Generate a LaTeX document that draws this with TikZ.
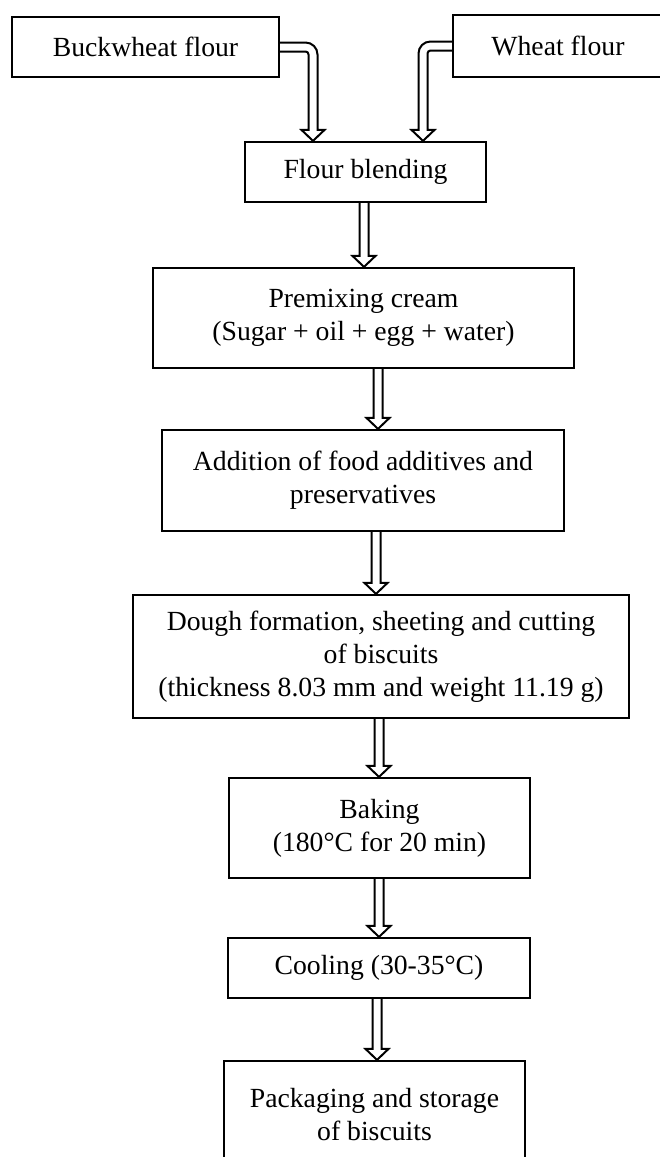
\documentclass[tikz,border=0pt]{standalone}
\usepackage{fontspec}
\setmainfont{Liberation Serif}
\usetikzlibrary{calc}
\tikzset{
  box/.style={draw, line width=2.2pt, align=center, inner sep=0pt,
    font=\fontsize{27.7}{33}\selectfont},
  harrow/.style={draw, line width=2pt, line join=miter},
}
\newcommand\hdown[3]{%
  \draw[harrow] let \p1=(#1,0 |- #2.south), \p2=(#1,0 |- #3.north) in
    (\x1-4.5pt,\y1) -- (\x1-4.5pt,\y2+11pt) -- (\x1-11.5pt,\y2+11pt) -- (\p2)
    -- (\x1+11.5pt,\y2+11pt) -- (\x1+4.5pt,\y2+11pt) -- (\x1+4.5pt,\y1);}
\begin{document}
\begin{tikzpicture}[x=1pt,y=1pt]
\useasboundingbox (0,0) rectangle (660,-1157);
\node[box, minimum width=267pt, minimum height=60pt] (buck) at (145.5,-47) {Buckwheat flour};
\node[box, minimum width=210pt, minimum height=62pt] (wheat) at (558,-46) {Wheat flour};
\node[box, minimum width=241pt, minimum height=60pt] (blend) at (365.5,-172) {Flour blending};
\node[box, minimum width=421pt, minimum height=100pt] (premix) at (363.5,-318) {Premixing cream\\(Sugar + oil + egg + water)};
\node[box, minimum width=402pt, minimum height=101pt] (addit) at (363,-480.5) {Addition of food additives and\\preservatives};
\node[box, minimum width=496pt, minimum height=123pt] (dough) at (381,-656.5) {Dough formation, sheeting and cutting\\of biscuits\\(thickness 8.03 mm and weight 11.19 g)};
\node[box, minimum width=301pt, minimum height=100pt] (bake) at (379.5,-828) {Baking\\(180°C for 20 min)};
\node[box, minimum width=302pt, minimum height=60pt] (cool) at (379,-968) {Cooling (30-35°C)};
\node[box, minimum width=301pt, minimum height=108pt] (pack) at (374.5,-1115) {Packaging and storage\\of biscuits};
% top bent arrows
\draw[harrow] let \p1=(buck.east), \p2=(313,0 |- blend.north) in
  (\x1,\y1+4.5pt) -- (\x2-7.5pt,\y1+4.5pt) arc[start angle=90,end angle=0,radius=12]
  -- (\x2+4.5pt,\y2+11pt) -- (\x2+11.5pt,\y2+11pt) -- (\p2) -- (\x2-11.5pt,\y2+11pt)
  -- (\x2-4.5pt,\y2+11pt) -- (\x2-4.5pt,\y1-7.5pt) arc[start angle=0,end angle=90,radius=3]
  -- (\x1,\y1-4.5pt);
\draw[harrow] let \p1=(wheat.west), \p2=(423,0 |- blend.north) in
  (\x1,\y1+4.5pt) -- (\x2+7.5pt,\y1+4.5pt) arc[start angle=90,end angle=180,radius=12]
  -- (\x2-4.5pt,\y2+11pt) -- (\x2-11.5pt,\y2+11pt) -- (\p2) -- (\x2+11.5pt,\y2+11pt)
  -- (\x2+4.5pt,\y2+11pt) -- (\x2+4.5pt,\y1-7.5pt) arc[start angle=180,end angle=90,radius=3]
  -- (\x1,\y1-4.5pt);
% vertical arrows
\hdown{364}{blend}{premix}
\hdown{378}{premix}{addit}
\hdown{376}{addit}{dough}
\hdown{379}{dough}{bake}
\hdown{379}{bake}{cool}
\hdown{377}{cool}{pack}
\end{tikzpicture}
\end{document}
